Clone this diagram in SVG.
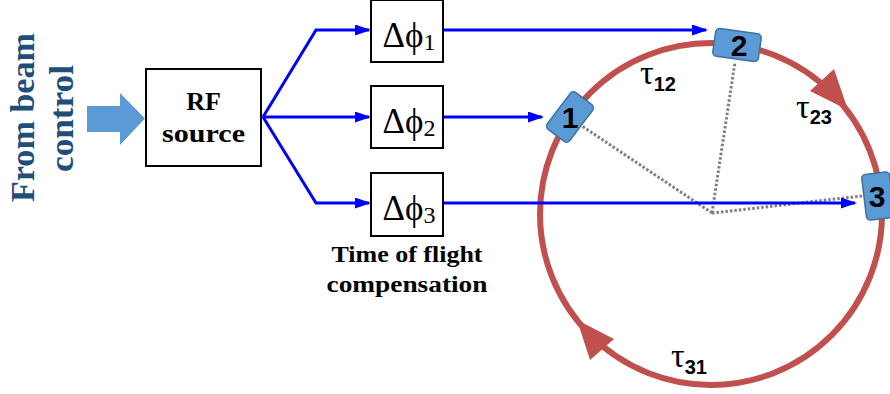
<svg xmlns="http://www.w3.org/2000/svg" width="890" height="394" viewBox="0 0 890 394">
<style>
.box{fill:#fff;stroke:#000;stroke-width:2}
.bl{fill:none;stroke:#0000ff;stroke-width:3}
.dot{fill:none;stroke:#808080;stroke-width:3;stroke-dasharray:2.5 2}
.node{fill:#5b9bd5;stroke:#41719c;stroke-width:1.5}
.nl{font-family:"Liberation Sans",Arial,sans-serif;font-weight:bold;font-size:30px;fill:#000;text-anchor:middle}
.bs{font-family:"Liberation Serif","Times New Roman",serif;font-weight:bold;fill:#000;text-anchor:middle}
.ph{font-family:"Liberation Serif","DejaVu Serif","Times New Roman",serif;font-size:35px;fill:#000;text-anchor:middle}
.tau{font-family:"Liberation Serif","Times New Roman",serif;font-size:34px;fill:#000}
.sub{font-family:"Liberation Sans",Arial,sans-serif;font-weight:bold;font-size:20px}
.fb{font-family:"Liberation Serif","Times New Roman",serif;font-weight:bold;font-size:33px;fill:#1f4e79;text-anchor:middle}
</style>
<defs>
<marker id="ah" viewBox="0 0 16 11" refX="14" refY="5.5" markerWidth="16" markerHeight="11" markerUnits="userSpaceOnUse" orient="auto">
<path d="M0,0 L16,5.5 L0,11 z" fill="#0000ff"/>
</marker>
</defs>

<g id="from-beam-control">
<text class="fb" transform="translate(34,117.5) rotate(-90)" textLength="169" lengthAdjust="spacingAndGlyphs">From beam</text>
<text class="fb" transform="translate(73,118.5) rotate(-90)" textLength="107" lengthAdjust="spacingAndGlyphs">control</text>
<polygon points="87,106 120,106 120,93 145,118.5 120,145 120,132 87,132" fill="#5b9bd5"/>
</g>

<g id="ring">
<circle cx="711" cy="214" r="171" fill="none" stroke="#c0504d" stroke-width="6"/>
<polygon points="848,110 834,69 810,91" fill="#c0504d"/>
<polygon points="577,320 590,360 614,339" fill="#c0504d"/>
</g>

<g id="connectors">
<path class="dot" d="M712,213 L582,126"/>
<path class="dot" d="M712,213 L735,62"/>
<path class="dot" d="M712,213 L862,196"/>
<path class="bl" d="M263,117 L316,30 L369,30" marker-end="url(#ah)"/>
<path class="bl" d="M263,117 L369,117" marker-end="url(#ah)"/>
<path class="bl" d="M263,117 L316,203 L369,203" marker-end="url(#ah)"/>
<path class="bl" d="M443,30 L706,30" marker-end="url(#ah)"/>
<path class="bl" d="M443,117 L542,117" marker-end="url(#ah)"/>
<path class="bl" d="M443,203 L855,203" marker-end="url(#ah)"/>
</g>

<g id="rf-source">
<rect class="box" x="146" y="69" width="115" height="97"/>
<text class="bs" x="203.5" y="110" font-size="26">RF</text>
<text class="bs" x="203.5" y="142" font-size="26" textLength="83" lengthAdjust="spacingAndGlyphs">source</text>
</g>

<g id="phase1">
<rect class="box" x="371" y="0" width="72" height="62"/>
<text class="ph" x="409" y="47">Δϕ<tspan font-size="24" dy="3">1</tspan></text>
</g>
<g id="phase2">
<rect class="box" x="371" y="86" width="72" height="62"/>
<text class="ph" x="409" y="133">Δϕ<tspan font-size="24" dy="3">2</tspan></text>
</g>
<g id="phase3">
<rect class="box" x="371" y="173" width="72" height="63"/>
<text class="ph" x="409" y="220">Δϕ<tspan font-size="24" dy="3">3</tspan></text>
</g>

<g id="tof-label">
<text class="bs" x="407" y="262" font-size="24" textLength="151" lengthAdjust="spacingAndGlyphs">Time of flight</text>
<text class="bs" x="407" y="292" font-size="24" textLength="161" lengthAdjust="spacingAndGlyphs">compensation</text>
</g>

<g id="node1">
<rect class="node" x="-23" y="-14" width="46" height="28" rx="4" transform="translate(570,117) rotate(-53)"/>
<text class="nl" x="570" y="128">1</text>
</g>
<g id="node2">
<rect class="node" x="-23" y="-14" width="46" height="28" rx="4" transform="translate(737,45) rotate(8)"/>
<text class="nl" x="739" y="56">2</text>
</g>
<g id="node3">
<rect class="node" x="-23" y="-14" width="46" height="28" rx="4" transform="translate(878,196) rotate(83)"/>
<text class="nl" x="877" y="207">3</text>
</g>

<g id="tau-labels">
<text class="tau" x="640" y="84">τ<tspan class="sub" dy="7">12</tspan></text>
<text class="tau" x="796" y="118">τ<tspan class="sub" dy="6">23</tspan></text>
<text class="tau" x="671" y="367">τ<tspan class="sub" dy="7">31</tspan></text>
</g>
</svg>
